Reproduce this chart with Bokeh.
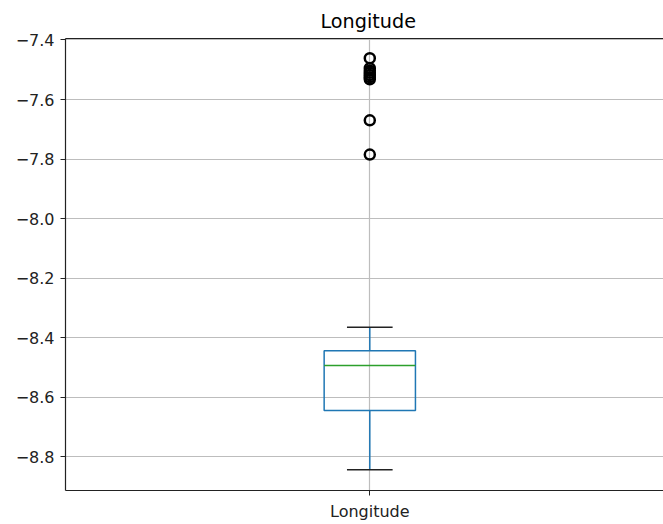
from bokeh.plotting import figure
from bokeh.models import Range1d, FixedTicker, CustomJSTickFormatter, LinearAxis
from bokeh.embed import file_html
from bokeh.resources import INLINE

# ---- data ----
categories = ["Longitude"]
q1 = [-8.645]
q3 = [-8.444]
median = [-8.494]
whisker_low = [-8.844]
whisker_high = [-8.365]
outliers = [-7.461, -7.495, -7.503, -7.510, -7.518, -7.525, -7.532, -7.670, -7.785]
y_ticks = [-8.8, -8.6, -8.4, -8.2, -8.0, -7.8, -7.6, -7.4]

positions = [i + 1 for i in range(len(categories))]
box_w = 0.15
cap_w = box_w / 2

FONT = "DejaVu Sans"
BLUE = "#1f77b4"
GREEN = "#2ca02c"

p = figure(width=663, height=524, output_backend="svg", toolbar_location=None,
           x_range=Range1d(0.5, 1.4826), y_range=Range1d(-8.914, -7.395),
           min_border_left=65, min_border_right=0, min_border_top=38, min_border_bottom=34,
           title="Longitude")
p.outline_line_color = None
p.background_fill_color = "white"
p.border_fill_color = "white"

# title
p.title.text_font = FONT
p.title.text_font_size = "19.2px"
p.title.text_font_style = "normal"
p.title.text_color = "black"
p.title.align = "left"
p.title.offset = 255
p.title.standoff = 12

# grids
for g in (p.xgrid, p.ygrid):
    g.grid_line_color = "#bdbdbd"
    g.grid_line_width = 1.2
p.ygrid.ticker = FixedTicker(ticks=y_ticks)
p.xgrid.ticker = FixedTicker(ticks=positions)

# y axis
ya = p.yaxis[0]
ya.ticker = FixedTicker(ticks=y_ticks)
ya.formatter = CustomJSTickFormatter(code="return tick.toFixed(1).replace('-', '\u2212');")
ya.major_label_text_font = FONT
ya.major_label_text_font_size = "16px"
ya.major_label_text_color = "#222222"
ya.major_tick_out = 5
ya.major_tick_in = 0
ya.minor_tick_line_color = None
ya.major_label_standoff = 6
ya.axis_line_color = "#222222"
ya.axis_line_width = 1.2
ya.major_tick_line_color = "#222222"

# x axis
xa = p.xaxis[0]
xa.ticker = FixedTicker(ticks=positions)
xa.major_label_overrides = {pos: c for pos, c in zip(positions, categories)}
xa.major_label_text_font = FONT
xa.major_label_text_font_size = "16px"
xa.major_label_text_color = "#222222"
xa.major_tick_out = 5
xa.major_tick_in = 0
xa.minor_tick_line_color = None
xa.major_label_standoff = 6
xa.axis_line_color = "#222222"
xa.axis_line_width = 1.2
xa.major_tick_line_color = "#222222"

# top spine
top = LinearAxis(ticker=FixedTicker(ticks=[]), major_label_text_font_size="0px",
                 major_tick_line_color=None, minor_tick_line_color=None,
                 axis_line_color="#222222", axis_line_width=1.2, major_label_standoff=0)
p.add_layout(top, "above")

# box
p.vbar(x=positions, width=box_w, bottom=q1, top=q3, fill_color=None,
       line_color=BLUE, line_width=1.5)
# whiskers
p.segment(x0=positions, y0=q3, x1=positions, y1=whisker_high, line_color=BLUE, line_width=1.5)
p.segment(x0=positions, y0=q1, x1=positions, y1=whisker_low, line_color=BLUE, line_width=1.5)
# caps
p.segment(x0=[x - cap_w / 2 for x in positions], y0=whisker_high,
          x1=[x + cap_w / 2 for x in positions], y1=whisker_high, line_color="#222222", line_width=1.5)
p.segment(x0=[x - cap_w / 2 for x in positions], y0=whisker_low,
          x1=[x + cap_w / 2 for x in positions], y1=whisker_low, line_color="#222222", line_width=1.5)
# median
p.segment(x0=[x - box_w / 2 for x in positions], y0=median,
          x1=[x + box_w / 2 for x in positions], y1=median, line_color=GREEN, line_width=1.5)
# fliers
p.scatter(x=[positions[0]] * len(outliers), y=outliers, marker="circle", size=10,
          fill_color=None, line_color="black", line_width=2.5)

open("out.html", "w").write(file_html(p, INLINE))
